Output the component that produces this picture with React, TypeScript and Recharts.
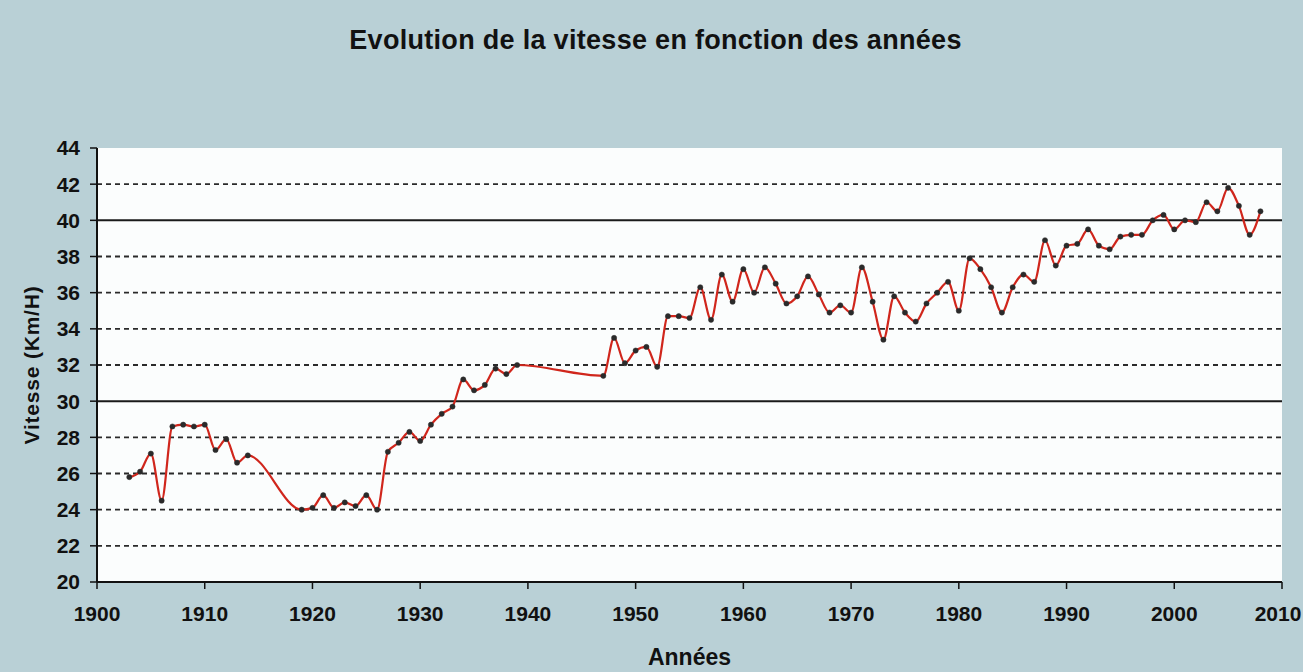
import React from "react";
import {
  LineChart,
  Line,
  XAxis,
  YAxis,
  CartesianGrid,
  ReferenceLine,
} from "recharts";

const years = [
  1903, 1904, 1905, 1906, 1907, 1908, 1909, 1910, 1911, 1912, 1913, 1914,
  1919, 1920, 1921, 1922, 1923, 1924, 1925, 1926, 1927, 1928, 1929, 1930,
  1931, 1932, 1933, 1934, 1935, 1936, 1937, 1938, 1939,
  1947, 1948, 1949, 1950, 1951, 1952, 1953, 1954, 1955, 1956, 1957, 1958,
  1959, 1960, 1961, 1962, 1963, 1964, 1965, 1966, 1967, 1968, 1969, 1970,
  1971, 1972, 1973, 1974, 1975, 1976, 1977, 1978, 1979, 1980, 1981, 1982,
  1983, 1984, 1985, 1986, 1987, 1988, 1989, 1990, 1991, 1992, 1993, 1994,
  1995, 1996, 1997, 1998, 1999, 2000, 2001, 2002, 2003, 2004, 2005, 2006,
  2007, 2008,
];

const speeds = [
  25.8, 26.1, 27.1, 24.5, 28.6, 28.7, 28.6, 28.7, 27.3, 27.9, 26.6, 27.0,
  24.0, 24.1, 24.8, 24.1, 24.4, 24.2, 24.8, 24.0, 27.2, 27.7, 28.3, 27.8,
  28.7, 29.3, 29.7, 31.2, 30.6, 30.9, 31.8, 31.5, 32.0,
  31.4, 33.5, 32.1, 32.8, 33.0, 31.9, 34.7, 34.7, 34.6, 36.3, 34.5, 37.0,
  35.5, 37.3, 36.0, 37.4, 36.5, 35.4, 35.8, 36.9, 35.9, 34.9, 35.3, 34.9,
  37.4, 35.5, 33.4, 35.8, 34.9, 34.4, 35.4, 36.0, 36.6, 35.0, 37.9, 37.3,
  36.3, 34.9, 36.3, 37.0, 36.6, 38.9, 37.5, 38.6, 38.7, 39.5, 38.6, 38.4,
  39.1, 39.2, 39.2, 40.0, 40.3, 39.5, 40.0, 39.9, 41.0, 40.5, 41.8, 40.8,
  39.2, 40.5,
];

const xTicks = [1900, 1910, 1920, 1930, 1940, 1950, 1960, 1970, 1980, 1990, 2000, 2010];
const yTicks = [20, 22, 24, 26, 28, 30, 32, 34, 36, 38, 40, 42, 44];
const dashedLines = [22, 24, 26, 28, 32, 34, 36, 38, 42];
const solidLines = [30, 40];

const data = years.map((year, i) => ({ year, speed: speeds[i] }));

const font = "'Liberation Sans', Arial, sans-serif";
const tickStyle = { fontSize: 21, fontWeight: 700, fill: "#111", fontFamily: font };

// keep the last year label inside the picture
function YearTick(props: any) {
  const { x, y, payload } = props;
  const last = payload.value === xTicks[xTicks.length - 1];
  return (
    <text
      x={last ? x - 4 : x}
      y={y}
      dy="0.71em"
      textAnchor="middle"
      {...tickStyle}
    >
      {payload.value}
    </text>
  );
}

export default function App() {
  return (
    <div
      style={{
        position: "absolute",
        left: 0,
        top: 0,
        width: 1303,
        height: 672,
        background: "#b9d0d6",
        fontFamily: font,
      }}
    >
      <div
        style={{
          position: "absolute",
          top: 27,
          left: 4,
          width: 1303,
          textAlign: "center",
          fontSize: 27,
          lineHeight: "27px",
          fontWeight: 700,
          letterSpacing: 0.3,
          color: "#111",
        }}
      >
        Evolution de la vitesse en fonction des années
      </div>
      <LineChart
        width={1303}
        height={672}
        data={data}
        margin={{ top: 148, right: 21, bottom: 0, left: 0 }}
      >
        <CartesianGrid
          fill="#fbfdfd"
          vertical={false}
          horizontalValues={dashedLines}
          stroke="#2a2a2a"
          strokeWidth={1.8}
          strokeDasharray="5 4"
        />
        {solidLines.map((v) => (
          <ReferenceLine key={v} y={v} stroke="#1a1a1a" strokeWidth={2} />
        ))}
        <XAxis
          type="number"
          dataKey="year"
          domain={[1900, 2010]}
          ticks={xTicks}
          interval={0}
          height={90}
          tickSize={7}
          tickMargin={17}
          axisLine={{ stroke: "#111", strokeWidth: 2 }}
          tickLine={{ stroke: "#111", strokeWidth: 1.5 }}
          tick={<YearTick />}
          label={{
            value: "Années",
            position: "insideBottom",
            offset: 7,
            style: { fontSize: 23, fontWeight: 700, fill: "#111", fontFamily: font },
          }}
        />
        <YAxis
          type="number"
          domain={[20, 44]}
          ticks={yTicks}
          interval={0}
          width={97}
          tickSize={7}
          tickMargin={10}
          axisLine={{ stroke: "#111", strokeWidth: 2 }}
          tickLine={{ stroke: "#111", strokeWidth: 1.5 }}
          tick={tickStyle}
          label={{
            value: "Vitesse (Km/H)",
            angle: -90,
            position: "insideLeft",
            offset: 32,
            style: {
              textAnchor: "middle",
              fontSize: 21,
              fontWeight: 700,
              letterSpacing: 0.8,
              fill: "#111",
              fontFamily: font,
            },
          }}
        />
        <Line
          type="monotone"
          dataKey="speed"
          stroke="#d0261c"
          strokeWidth={2.2}
          dot={{ r: 2.6, fill: "#2a2a2a", stroke: "#2a2a2a", strokeWidth: 0.5 }}
          isAnimationActive={false}
        />
      </LineChart>
    </div>
  );
}
